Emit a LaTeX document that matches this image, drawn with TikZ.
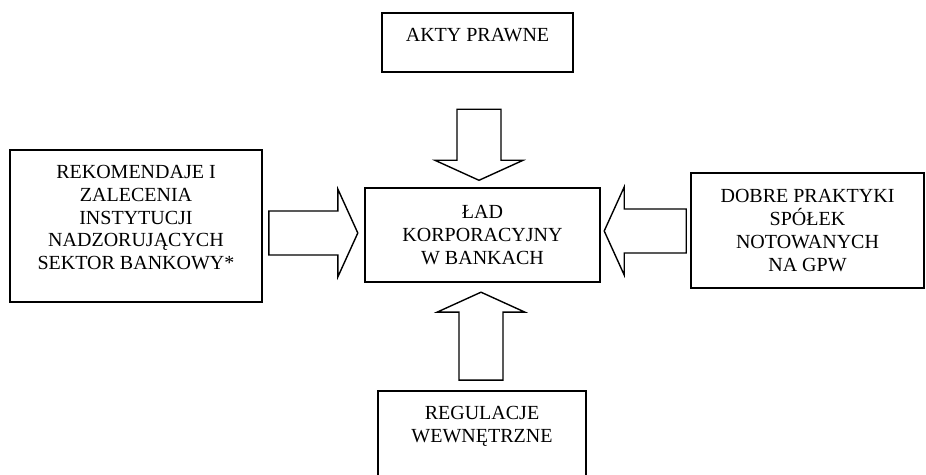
\documentclass[tikz,border=0pt]{standalone}
\usepackage{fontspec}
\setmainfont{Liberation Serif}
\usetikzlibrary{calc}

\tikzset{
	ramka/.style={draw, line width=1.6pt, align=center, inner sep=0pt,
		font=\fontsize{20}{22.7}\selectfont},
	strzalka/.style={draw, line width=1.4pt, line join=miter}
}

% strzalka blokowa: poczatek, kat, dlugosc
\newcommand{\blokstrzalka}[3]{%
	\begin{scope}[shift={(#1)}, rotate=#2]
		\draw[strzalka] (0,-22) -- ({#3-20},-22) -- ({#3-20},-44) -- (#3,0)
			-- ({#3-20},44) -- ({#3-20},22) -- (0,22) -- cycle;
	\end{scope}}

\begin{document}
\begin{tikzpicture}[x=1pt, y=1pt]
		\useasboundingbox (0,0) rectangle (926,474);
		
		% Nodes
		\node[ramka, minimum width=191, minimum height=59, text depth=15pt] (akty) at (477.5,431.5) {AKTY PRAWNE};
		\node[ramka, minimum width=252, minimum height=152, text depth=17pt] (rekom) at (136,248)
			{REKOMENDAJE I\\ZALECENIA\\INSTYTUCJI\\NADZORUJĄCYCH\\SEKTOR BANKOWY*};
		\node[ramka, minimum width=235, minimum height=94] (lad) at (482.5,239)
			{ŁAD\\KORPORACYJNY\\W BANKACH};
		\node[ramka, minimum width=233, minimum height=115] (dobre) at (807.5,243.5)
			{DOBRE PRAKTYKI\\SPÓŁEK\\NOTOWANYCH\\NA GPW};
		\node[ramka, minimum width=208, minimum height=93, text depth=26pt] (regul) at (482,36.5)
			{REGULACJE\\WEWNĘTRZNE};
		
		% Arrows
		\coordinate (gora) at ($(akty.south)+(1.5,-36.5)$);
		\coordinate (dol) at ($(regul.north)+(-1,10)$);
		\coordinate (lewo) at ($(rekom.east)+(6,-7)$);
		\coordinate (prawo) at ($(dobre.west)+(-4,-0.5)$);
		\blokstrzalka{gora}{-90}{71}
		\blokstrzalka{dol}{90}{88}
		\blokstrzalka{lewo}{0}{89}
		\blokstrzalka{prawo}{180}{82}
	\end{tikzpicture}
\end{document}
